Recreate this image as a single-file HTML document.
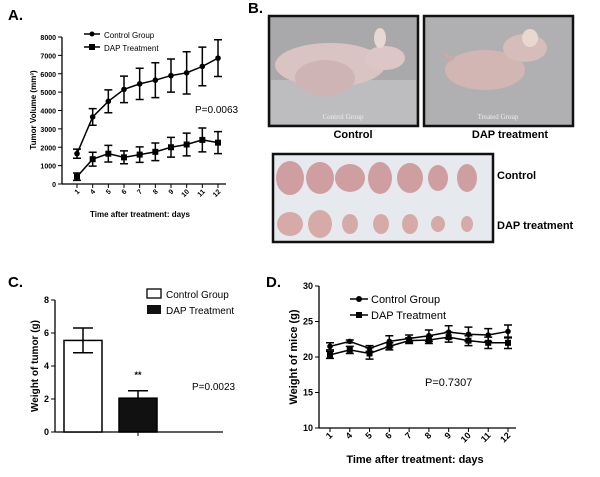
<!DOCTYPE html>
<html><head><meta charset="utf-8"><style>
body{margin:0;background:#fff}
svg{display:block;font-family:"Liberation Sans",Arial,sans-serif}
</style></head><body>
<svg id="fig" width="600" height="477" viewBox="0 0 600 477">
<text x="8" y="20" font-size="15" font-weight="bold">A.</text>
<text x="248" y="13" font-size="15" font-weight="bold">B.</text>
<text x="8" y="287" font-size="15" font-weight="bold">C.</text>
<text x="266" y="287" font-size="15" font-weight="bold">D.</text>

<g>
<rect x="269" y="16" width="149" height="110" fill="#a9a9ab" stroke="#111" stroke-width="2.5"/>
<rect x="271" y="80" width="145" height="44" fill="#bdbdbf"/>
<ellipse cx="330" cy="65" rx="55" ry="22" fill="#d9c3c3"/>
<ellipse cx="325" cy="78" rx="30" ry="18" fill="#cfb4b6"/>
<ellipse cx="385" cy="58" rx="20" ry="12" fill="#dcc6c6"/>
<ellipse cx="380" cy="38" rx="6" ry="10" fill="#e8d8d2"/>
<text x="343" y="119" font-size="7" fill="#eee" text-anchor="middle" font-family="Liberation Serif,serif">Control Group</text>
</g>
<g>
<rect x="424" y="16" width="149" height="110" fill="#b0b0b2" stroke="#111" stroke-width="2.5"/>
<ellipse cx="485" cy="70" rx="40" ry="20" fill="#d2b6b4"/>
<ellipse cx="525" cy="48" rx="22" ry="14" fill="#d6bcba"/>
<ellipse cx="530" cy="38" rx="8" ry="9" fill="#e8d8d0"/>
<polygon points="440,50 455,58 450,62" fill="#c8aaa8"/>
<text x="498" y="119" font-size="7" fill="#eee" text-anchor="middle" font-family="Liberation Serif,serif">Treated Group</text>
</g>
<text x="353" y="138" font-size="11" font-weight="bold" text-anchor="middle">Control</text>
<text x="510" y="138" font-size="11" font-weight="bold" text-anchor="middle">DAP treatment</text>
<g id="tumors">
<rect x="273" y="154" width="220" height="88" fill="#e6eaee" stroke="#111" stroke-width="2.5"/>
</g>
<text x="497" y="179" font-size="11" font-weight="bold">Control</text>
<text x="497" y="229" font-size="11" font-weight="bold">DAP treatment</text>

<g id="pa"></g><g id="pc"></g><g id="pd"></g>
</svg>
<script>
const NS="http://www.w3.org/2000/svg";
function mk(p,t,a){const e=document.createElementNS(NS,t);for(const k in a)e.setAttribute(k,a[k]);p.appendChild(e);return e;}
const tum=document.getElementById('tumors');
const tumC=[[290,14,17],[320,14,16],[350,15,14],[380,12,16],[410,13,15],[438,10,13],[467,10,14]];
const tumD=[[290,13,12],[320,12,14],[350,8,10],[381,8,10],[410,8,10],[438,7,8],[467,6,8]];
tumC.forEach(t=>{mk(tum,'ellipse',{cx:t[0],cy:178,rx:t[1],ry:t[2],fill:'#cf9ea0'});});
tumD.forEach(t=>{mk(tum,'ellipse',{cx:t[0],cy:224,rx:t[1],ry:t[2],fill:'#d6aaa6'});});

const aDays=["1","4","5","6","7","8","9","10","11","12"];
const aCtrl=[1650,3650,4500,5150,5450,5650,5900,6050,6400,6850];
const aCtrlErr=[250,450,620,720,850,950,900,1150,1050,1000];
const aDap=[400,1350,1650,1450,1600,1750,2000,2150,2400,2250];
const aDapErr=[200,380,450,350,420,480,540,620,650,600];
const aTicks=[0,1000,2000,3000,4000,5000,6000,7000,8000];
const cGroups=["Control Group","DAP Treatment"];
const cVals=[5.55,2.05];
const cErr=[0.75,0.45];
const cTicks=[0,2,4,6,8];
const dDays=["1","4","5","6","7","8","9","10","11","12"];
const dCtrl=[21.5,22.2,21.2,22.2,22.6,23.0,23.5,23.2,23.1,23.6];
const dCtrlErr=[0.5,0.2,0.4,0.8,0.5,0.8,0.9,1.0,0.9,0.9];
const dDap=[20.3,21.0,20.5,21.5,22.3,22.4,22.8,22.3,22.0,22.0];
const dDapErr=[0.5,0.5,0.8,0.5,0.4,0.5,0.7,0.7,0.8,0.8];
const dTicks=[10,15,20,25,30];

function lineChart(g,o){
  const y=v=>o.y0+(v-o.vmin)/(o.vmax-o.vmin)*(o.y1-o.y0);
  const x=i=>o.x0+i*(o.x1-o.x0)/(o.cats.length-1);
  mk(g,'line',{x1:o.ax,y1:o.y0,x2:o.ax,y2:o.y1,stroke:'#000','stroke-width':1.3});
  mk(g,'line',{x1:o.ax,y1:o.y0,x2:o.x1+8,y2:o.y0,stroke:'#000','stroke-width':1.3});
  o.ticks.forEach(t=>{mk(g,'line',{x1:o.ax-4,y1:y(t),x2:o.ax,y2:y(t),stroke:'#000'});
    const tx=mk(g,'text',{x:o.ax-6,y:y(t)+3,'font-size':o.fs,'font-weight':'bold','text-anchor':'end'});tx.textContent=t;
    
    });
  o.cats.forEach((c,i)=>{mk(g,'line',{x1:x(i),y1:o.y0,x2:x(i),y2:o.y0+4,stroke:'#000'});
    const tx=mk(g,'text',{x:x(i)+3,y:o.y0+8,'font-size':o.fs,'font-weight':'bold','text-anchor':'end',transform:`rotate(-45 ${x(i)+3} ${o.y0+8})`});tx.textContent=c;
    
    });
  o.series.forEach((s,si)=>{
    const pts=s.v.map((v,i)=>x(i)+','+y(v)).join(' ');
    const pl=mk(g,'polyline',{points:pts,fill:'none',stroke:'#000','stroke-width':1.5});
    
    
    s.v.forEach((v,i)=>{const e=s.e[i],cx=x(i);
      mk(g,'path',{d:`M${cx},${y(v-e)}V${y(v+e)}M${cx-4},${y(v-e)}h8M${cx-4},${y(v+e)}h8`,stroke:'#000','stroke-width':1.5,fill:'none'});
      let m;
      if(si==0)m=mk(g,'circle',{cx:cx,cy:y(v),r:2.8,fill:'#000'});
      else m=mk(g,'rect',{x:cx-3,y:y(v)-3,width:6,height:6,fill:'#000'});
      
      
    });
  });
}
const pa=document.getElementById('pa');
lineChart(pa,{ax:62,x0:77,x1:218,y0:184,y1:37,vmin:0,vmax:8000,cats:aDays,ticks:aTicks,fs:7,
  series:[{name:'control',v:aCtrl,e:aCtrlErr},{name:'dap',v:aDap,e:aDapErr}]});
const pd=document.getElementById('pd');
lineChart(pd,{ax:319,x0:330,x1:508,y0:428,y1:286,vmin:10,vmax:30,cats:dDays,ticks:dTicks,fs:9,
  series:[{name:'control',v:dCtrl,e:dCtrlErr},{name:'dap',v:dDap,e:dDapErr}]});

function txt(g,x,y,s,a,name){const t=mk(g,'text',Object.assign({x:x,y:y},a));t.textContent=s;
  
  return t;}
mk(pa,'line',{x1:84,y1:34,x2:100,y2:34,stroke:'#000','stroke-width':1.5});mk(pa,'circle',{cx:92,cy:34,r:2.5});
mk(pa,'line',{x1:84,y1:47,x2:100,y2:47,stroke:'#000','stroke-width':1.5});mk(pa,'rect',{x:89,y:44,width:6,height:6});
txt(pa,104,38,'Control Group',{'font-size':8},'legend-control');
txt(pa,104,51,'DAP Treatment',{'font-size':8},'legend-dap');
txt(pa,195,113,'P=0.0063',{'font-size':10},'p-value-a');
txt(pa,140,217,'Time after treatment: days',{'font-size':8,'font-weight':'bold','text-anchor':'middle'},'x-axis-title-a');
txt(pa,36,110,'Tumor Volume (mm³)',{'font-size':8,'font-weight':'bold','text-anchor':'middle',transform:'rotate(-90 36 110)'},'y-axis-title-a');
mk(pd,'line',{x1:350,y1:299,x2:368,y2:299,stroke:'#000','stroke-width':1.5});mk(pd,'circle',{cx:359,cy:299,r:3});
mk(pd,'line',{x1:350,y1:315,x2:368,y2:315,stroke:'#000','stroke-width':1.5});mk(pd,'rect',{x:356,y:312,width:6,height:6});
txt(pd,371,303,'Control Group',{'font-size':11},'legend-control-d');
txt(pd,371,319,'DAP Treatment',{'font-size':11},'legend-dap-d');
txt(pd,425,386,'P=0.7307',{'font-size':11},'p-value-d');
txt(pd,415,463,'Time after treatment: days',{'font-size':11,'font-weight':'bold','text-anchor':'middle'},'x-axis-title-d');
txt(pd,297,357,'Weight of mice (g)',{'font-size':11,'font-weight':'bold','text-anchor':'middle',transform:'rotate(-90 297 357)'},'y-axis-title-d');

const pc=document.getElementById('pc');
const cy=v=>432+(v-0)/(8-0)*(300-432);
const cx0=[64,119],cw=38;
mk(pc,'line',{x1:55,y1:300,x2:55,y2:432,stroke:'#000','stroke-width':1.3});
mk(pc,'line',{x1:55,y1:432,x2:223,y2:432,stroke:'#000','stroke-width':1.3});
mk(pc,'line',{x1:138,y1:432,x2:138,y2:436,stroke:'#000'});
cTicks.forEach(t=>{mk(pc,'line',{x1:51,y1:cy(t),x2:55,y2:cy(t),stroke:'#000'});
  txt(pc,49,cy(t)+3,String(t),{'font-size':9,'font-weight':'bold','text-anchor':'end'},'y-tick-label-c');});
cVals.forEach((v,i)=>{const b=mk(pc,'rect',{x:cx0[i],y:cy(v),width:cw,height:432-cy(v),fill:i?'#111':'#fff',stroke:'#000','stroke-width':1.5});
  
  
  const m=cx0[i]+cw/2;
  mk(pc,'path',{d:`M${m},${cy(v)}V${cy(v+cErr[i])}M${m-10},${cy(v+cErr[i])}h20`+(i?'':`M${m},${cy(v)}V${cy(v-cErr[i])}M${m-10},${cy(v-cErr[i])}h20`),stroke:'#000','stroke-width':1.5,fill:'none'});});
mk(pc,'rect',{x:147,y:289,width:14,height:9,fill:'#fff',stroke:'#000','stroke-width':1.3});
mk(pc,'rect',{x:147,y:305,width:14,height:9,fill:'#111'});
txt(pc,166,298,cGroups[0],{'font-size':10},'legend-control-c');
txt(pc,166,314,cGroups[1],{'font-size':10},'legend-dap-c');
txt(pc,138,378,'**',{'font-size':9,'font-weight':'bold','text-anchor':'middle'},'significance-mark');
txt(pc,192,390,'P=0.0023',{'font-size':10},'p-value-c');
txt(pc,38,366,'Weight of tumor (g)',{'font-size':10,'font-weight':'bold','text-anchor':'middle',transform:'rotate(-90 38 366)'},'y-axis-title-c');
</script>
</body></html>
